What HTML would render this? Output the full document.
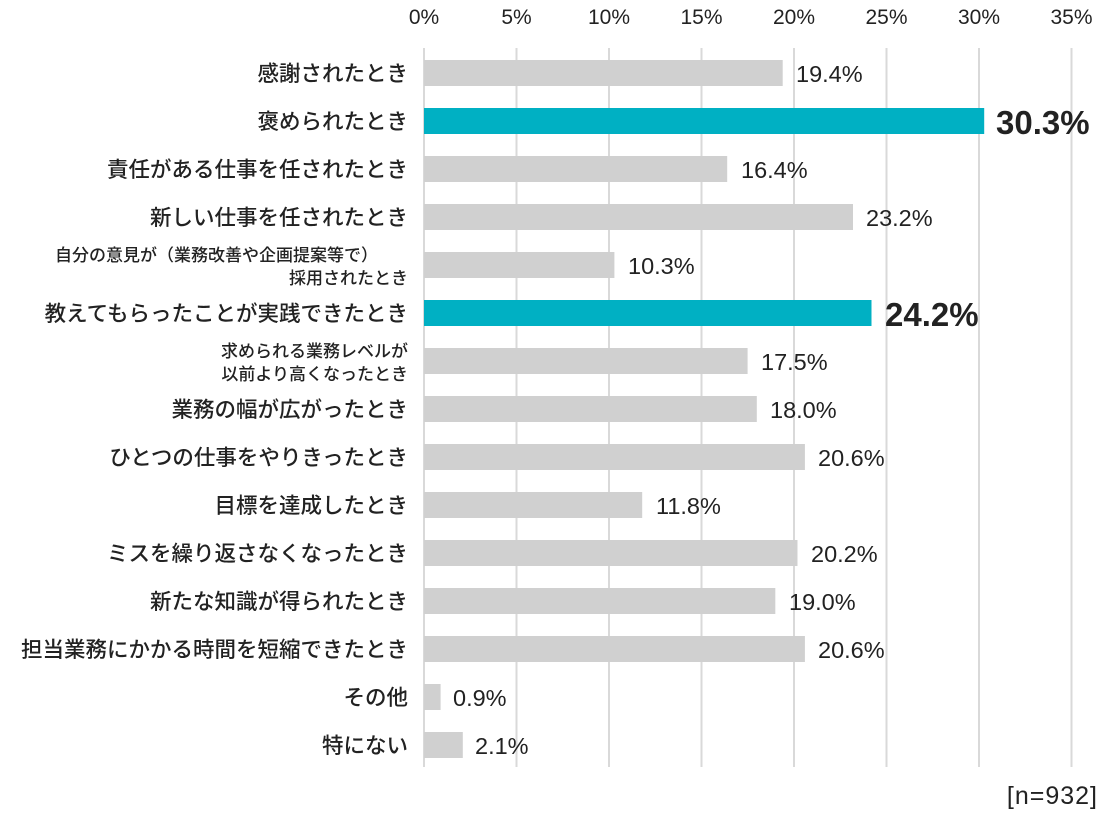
<!DOCTYPE html>
<html><head><meta charset="utf-8"><style>
html,body{margin:0;padding:0;background:#fff;}
svg text{font-family:"Liberation Sans","Noto Sans CJK JP",sans-serif;}
</style></head><body>
<svg width="1116" height="826" viewBox="0 0 1116 826" xmlns="http://www.w3.org/2000/svg">
<g stroke="#d9d9d9" stroke-width="2">
<line x1="424" y1="48" x2="424" y2="767"/>
<line x1="516.5" y1="48" x2="516.5" y2="767"/>
<line x1="609" y1="48" x2="609" y2="767"/>
<line x1="701.5" y1="48" x2="701.5" y2="767"/>
<line x1="794" y1="48" x2="794" y2="767"/>
<line x1="886.5" y1="48" x2="886.5" y2="767"/>
<line x1="979" y1="48" x2="979" y2="767"/>
<line x1="1071.5" y1="48" x2="1071.5" y2="767"/>
</g>
<g font-size="21" fill="#222" text-anchor="middle">
<text x="424" y="24">0%</text><text x="516.5" y="24">5%</text><text x="609" y="24">10%</text><text x="701.5" y="24">15%</text><text x="794" y="24">20%</text><text x="886.5" y="24">25%</text><text x="979" y="24">30%</text><text x="1071.5" y="24">35%</text>
</g>
<g font-size="21.5" fill="#222" text-anchor="end" font-weight="500">
<text x="408" y="81">感謝されたとき</text>
<text x="408" y="129">褒められたとき</text>
<text x="408" y="177">責任がある仕事を任されたとき</text>
<text x="408" y="225">新しい仕事を任されたとき</text>
<text x="378" y="261" font-size="17">自分の意見が（業務改善や企画提案等で）</text>
<text x="408" y="284" font-size="17">採用されたとき</text>
<text x="408" y="321">教えてもらったことが実践できたとき</text>
<text x="408" y="357" font-size="17">求められる業務レベルが</text>
<text x="408" y="380" font-size="17">以前より高くなったとき</text>
<text x="408" y="417">業務の幅が広がったとき</text>
<text x="408" y="465">ひとつの仕事をやりきったとき</text>
<text x="408" y="513">目標を達成したとき</text>
<text x="408" y="561">ミスを繰り返さなくなったとき</text>
<text x="408" y="609">新たな知識が得られたとき</text>
<text x="408" y="657">担当業務にかかる時間を短縮できたとき</text>
<text x="408" y="705">その他</text>
<text x="408" y="753">特にない</text>
</g>
<g fill="#d0d0d0">
<rect x="424" y="60" width="358.7" height="26"/>
<rect x="424" y="108" width="560.2" height="26" fill="#00b0c3"/>
<rect x="424" y="156" width="303.2" height="26"/>
<rect x="424" y="204" width="429" height="26"/>
<rect x="424" y="252" width="190.4" height="26"/>
<rect x="424" y="300" width="447.5" height="26" fill="#00b0c3"/>
<rect x="424" y="348" width="323.6" height="26"/>
<rect x="424" y="396" width="332.8" height="26"/>
<rect x="424" y="444" width="380.9" height="26"/>
<rect x="424" y="492" width="218.2" height="26"/>
<rect x="424" y="540" width="373.5" height="26"/>
<rect x="424" y="588" width="351.3" height="26"/>
<rect x="424" y="636" width="380.9" height="26"/>
<rect x="424" y="684" width="16.6" height="26"/>
<rect x="424" y="732" width="38.8" height="26"/>
</g>
<g font-size="23.5" fill="#222">
<text x="796" y="82">19.4%</text>
<text x="996" y="134" font-size="33" font-weight="bold">30.3%</text>
<text x="741" y="178">16.4%</text>
<text x="866" y="226">23.2%</text>
<text x="628" y="274">10.3%</text>
<text x="885" y="326" font-size="33" font-weight="bold">24.2%</text>
<text x="761" y="370">17.5%</text>
<text x="770" y="418">18.0%</text>
<text x="818" y="466">20.6%</text>
<text x="656" y="514">11.8%</text>
<text x="811" y="562">20.2%</text>
<text x="789" y="610">19.0%</text>
<text x="818" y="658">20.6%</text>
<text x="453" y="706">0.9%</text>
<text x="475" y="754">2.1%</text>
<text x="1098" y="804" text-anchor="end" font-size="25" letter-spacing="1">[n=932]</text>
</g>
</svg>
</body></html>
